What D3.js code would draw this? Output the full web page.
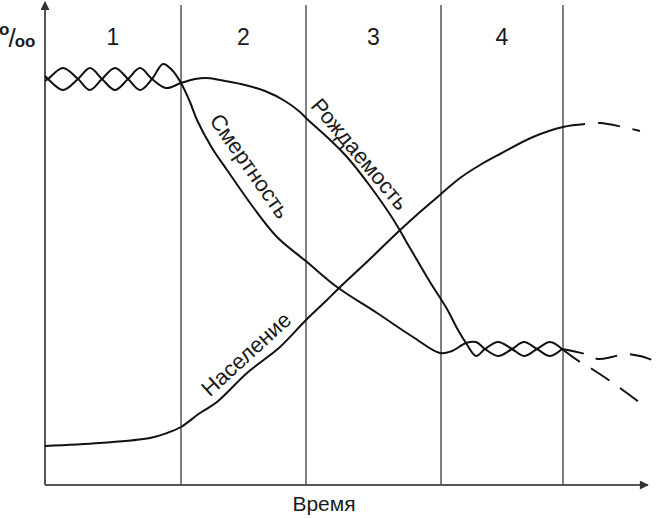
<!DOCTYPE html>
<meta charset="utf-8">
<style>
body { margin: 0; background: #fff; }
text { font-family: "Liberation Sans", Arial, sans-serif; fill: #1a1a1a; }
.curve { fill: none; stroke: #111; stroke-width: 2; }
.forecast { fill: none; stroke: #111; stroke-width: 2; stroke-dasharray: 22 13; }
.phase { stroke: #555; stroke-width: 1.5; }
.axis { stroke: #555; stroke-width: 2; }
</style>
<body>
<script src="https://d3js.org/d3.v7.min.js"></script>
<script>

// time (arbitrary units) / rate (arbitrary units)
var deathRate = [
  [0, 203], [1.5, 204], [9, 209.5], [16.5, 204], [22.5, 198.5], [28.5, 204], [35, 209.5],
  [41.5, 204], [47.5, 198.5], [53.5, 204], [59, 211.5], [63.5, 208.5], [68, 202],
  [72.5, 192.5], [76, 183.5], [83.5, 169.5], [91, 158.5], [104, 140], [116, 125],
  [131, 112.5], [146, 100], [166, 87], [184, 75], [197.5, 67], [203.5, 68],
  [210.5, 72], [215.5, 72.5], [220, 69], [226.5, 65.5], [233.5, 69], [239.5, 72.5],
  [246, 69], [252.5, 65.5], [258.5, 69]
];
var deathForecast = [
  [258.5, 69], [270, 66.5], [276.5, 64], [283.5, 65], [290, 66.5], [297.5, 65.5], [307.5, 62]
];

var birthRate = [
  [0, 205.5], [1.5, 204], [9, 198.5], [16.5, 204], [22.5, 209.5], [28.5, 204], [35, 198.5],
  [41.5, 204], [47.5, 209.5], [53.5, 204], [60.5, 199.5], [68, 202], [75, 204],
  [81, 204.5], [90, 203], [100, 201], [110, 198], [120, 193], [127.5, 187.5],
  [131, 184], [141, 175], [151, 165], [162.5, 150.5], [174, 134], [182.5, 119.5],
  [192.5, 102.5], [201, 89], [206.5, 78.5], [210.5, 72], [215.5, 65.5], [220, 69],
  [226.5, 72.5], [233.5, 69], [239.5, 65.5], [246, 69], [252.5, 72.5], [258.5, 69]
];
var birthForecast = [
  [258.5, 69], [267.5, 62.5], [273.5, 59], [284, 52], [297, 42.5]
];

var population = [
  [0, 20.5], [27.5, 22], [52.5, 24.5], [61, 27], [68, 30], [77.5, 37], [86, 42.5],
  [101, 57], [117.5, 70], [130.5, 83.5], [141, 93.5], [146, 98.5], [162.5, 114],
  [176.5, 127.5], [187.5, 137.5], [198, 146.5], [207.5, 154.5], [217.5, 161],
  [227.5, 166.5], [244, 175], [259, 180], [270, 181.5]
];
var populationForecast = [
  [270, 181.5], [277.5, 182], [289, 180], [297.5, 178]
];

var phaseBounds = [68, 130.5, 198, 259];
var phaseLabels = ["1", "2", "3", "4"];

var width = 664,
    height = 518,
    axisY = 485;

var x = d3.scaleLinear().domain([0, 300]).range([45, 645]),
    y = d3.scaleLinear().domain([0, 240]).range([487, 7]);

var svg = d3.select("body").append("svg")
    .attr("width", width)
    .attr("height", height);

var defs = svg.append("defs");
defs.append("marker")
    .attr("id", "arrow")
    .attr("viewBox", "0 0 10 10")
    .attr("refX", 9)
    .attr("refY", 5)
    .attr("markerUnits", "userSpaceOnUse")
    .attr("markerWidth", 10)
    .attr("markerHeight", 9)
    .attr("orient", "auto")
  .append("path")
    .attr("d", "M0,0L10,5L0,10z")
    .attr("fill", "#333");

// phase separators
svg.selectAll(".phase")
    .data(phaseBounds)
  .enter().append("line")
    .attr("class", "phase")
    .attr("x1", function(d) { return x(d); })
    .attr("x2", function(d) { return x(d); })
    .attr("y1", 5)
    .attr("y2", axisY);

// phase numbers, centred in each phase
var edges = [0].concat(phaseBounds);
svg.selectAll(".phase-label")
    .data(phaseLabels)
  .enter().append("text")
    .attr("class", "phase-label")
    .attr("x", function(d, i) { return x((edges[i] + edges[i + 1]) / 2); })
    .attr("y", 45)
    .attr("text-anchor", "middle")
    .style("font-size", "23px")
    .text(function(d) { return d; });

// axes
svg.append("line")
    .attr("class", "axis")
    .attr("x1", x(0)).attr("x2", x(0))
    .attr("y1", axisY).attr("y2", 2)
    .attr("marker-end", "url(#arrow)");
svg.append("line")
    .attr("class", "axis")
    .attr("x1", x(0)).attr("x2", 648)
    .attr("y1", axisY).attr("y2", axisY)
    .attr("marker-end", "url(#arrow)");

var line = d3.line()
    .x(function(d) { return x(d[0]); })
    .y(function(d) { return y(d[1]); })
    .curve(d3.curveCatmullRom.alpha(0.5));

[deathRate, birthRate, population].forEach(function(s) {
  svg.append("path").attr("class", "curve").attr("d", line(s));
});

svg.append("path").attr("class", "forecast").attr("d", line(deathForecast));
svg.append("path").attr("class", "forecast").attr("d", line(birthForecast));
svg.append("path").attr("class", "forecast")
    .style("stroke-dashoffset", 22)
    .attr("d", line(populationForecast));

// curve labels
var labels = [
  {text: "Смертность", x: 250, y: 166, a: 55},
  {text: "Рождаемость", x: 360, y: 154, a: 50},
  {text: "Население", x: 246, y: 354, a: -42.4}
];
svg.selectAll(".curve-label")
    .data(labels)
  .enter().append("text")
    .attr("class", "curve-label")
    .attr("transform", function(d) { return "translate(" + d.x + "," + d.y + ")rotate(" + d.a + ")"; })
    .attr("text-anchor", "middle")
    .attr("dy", "0.35em")
    .style("font-size", "22px")
    .text(function(d) { return d.text; });

// axis titles
svg.append("text")
    .attr("x", 324)
    .attr("y", 511)
    .attr("text-anchor", "middle")
    .style("font-size", "21px")
    .text("Время");

var unit = svg.append("text")
    .attr("x", -1)
    .attr("y", 47)
    .style("font-weight", "bold");
unit.append("tspan").attr("dy", -12).style("font-size", "17px").text("o");
unit.append("tspan").attr("dy", 12).attr("dx", -1).style("font-size", "26px").style("font-weight", "normal").text("/");
unit.append("tspan").attr("dx", -1).style("font-size", "17px").text("oo");

</script>
</body>
</html>
